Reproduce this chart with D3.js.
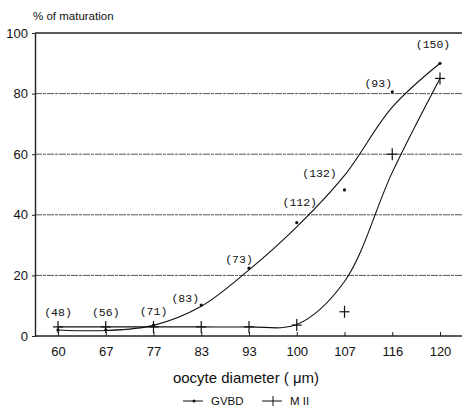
<!DOCTYPE html>
<html>
<head>
<meta charset="utf-8">
<script src="https://cdn.jsdelivr.net/npm/d3@7"></script>
<style>
  body { margin: 0; background: #fff; }
  svg { display: block; }
</style>
</head>
<body>
<svg id="chart" width="462" height="415"></svg>
<script>
// categories (oocyte diameter, um)
const diameters = ['60', '67', '77', '83', '93', '100', '107', '116', '120'];
// observed % of maturation
const gvbd = [2, 2, 3.6, 10.2, 22.4, 37.4, 48.2, 80.6, 90];
const m2 = [3, 3, 3, 3, 3, 3.6, 8, 60, 85];
// fitted curves as drawn in the figure
const gvbdFit = [2, 1.8, 3.5, 9.8, 21.8, 36, 53, 75.5, 90];
const m2Fit = [3, 3, 3, 3, 3, 3.8, 18, 54, 85];
// number of oocytes per class
const counts = ['(48)', '(56)', '(71)', '(83)', '(73)', '(112)', '(132)', '(93)', '(150)'];
const countOffset = [[0, -14], [0, -14], [0, -10], [-16, -3], [-10, -5], [3, -17], [-25, -13], [-14, -5], [-7, -15]];
const yTicks = [0, 20, 40, 60, 80, 100];

const svg = d3.select('#chart');
const margin = { top: 33, right: 0, bottom: 79, left: 35 };
const width = 462 - margin.left - margin.right;
const height = 415 - margin.top - margin.bottom;

const g = svg.append('g')
    .attr('transform', `translate(${margin.left},${margin.top})`);

const x = d3.scalePoint()
    .domain(diameters)
    .range([23, 405]);

const y = d3.scaleLinear()
    .domain([0, 100])
    .range([height, 0]);

const sans = 'Liberation Sans, Arial, sans-serif';

// grid lines
g.selectAll('.grid')
    .data(yTicks.filter(d => d > 0 && d < 100))
    .join('line')
    .attr('x1', 0).attr('x2', width)
    .attr('y1', d => y(d)).attr('y2', d => y(d))
    .attr('stroke', '#555')
    .attr('stroke-width', 1)
    .attr('stroke-dasharray', '7,1,3,1');

// top frame line
g.append('line')
    .attr('x1', 0).attr('x2', width)
    .attr('y1', y(100)).attr('y2', y(100))
    .attr('stroke', '#222').attr('stroke-width', 1.3);

// y axis
const yAxis = g.append('g')
    .call(d3.axisLeft(y).tickValues(yTicks).tickSize(3).tickSizeOuter(0));
yAxis.select('.domain').attr('stroke', '#222').attr('stroke-width', 1.4);
yAxis.selectAll('.tick line').attr('stroke', '#222');
yAxis.selectAll('.tick text')
    .attr('x', -7)
    .attr('font-family', sans)
    .attr('font-size', 13)
    .attr('fill', '#111');

// x axis
const xAxis = g.append('g')
    .attr('transform', `translate(0,${height})`)
    .call(d3.axisBottom(x).tickSize(-4).tickSizeOuter(0));
xAxis.select('.domain').attr('d', `M0,0H${width}`).attr('stroke', '#222').attr('stroke-width', 1.4);
xAxis.selectAll('.tick line').attr('stroke', '#222');
xAxis.selectAll('.tick text')
    .attr('y', 11)
    .attr('font-family', sans)
    .attr('font-size', 13)
    .attr('fill', '#111');

// axis titles
svg.append('text')
    .attr('x', 33).attr('y', 20)
    .attr('font-family', sans)
    .attr('font-size', 11.5)
    .attr('fill', '#111')
    .text('% of maturation');

svg.append('text')
    .attr('x', margin.left + 211).attr('y', 383)
    .attr('text-anchor', 'middle')
    .attr('font-family', sans)
    .attr('font-size', 15)
    .attr('fill', '#111')
    .text('oocyte diameter ( \u03bcm)');

// fitted curves
const line = d3.line()
    .x((d, i) => x(diameters[i]))
    .y(d => y(d))
    .curve(d3.curveCatmullRom.alpha(0.5));

g.append('path')
    .datum(gvbdFit)
    .attr('fill', 'none')
    .attr('stroke', '#111')
    .attr('stroke-width', 1.1)
    .attr('d', line);

g.append('path')
    .datum(m2Fit)
    .attr('fill', 'none')
    .attr('stroke', '#111')
    .attr('stroke-width', 1.1)
    .attr('d', line);

// GVBD points
g.selectAll('.gvbd')
    .data(gvbd)
    .join('circle')
    .attr('cx', (d, i) => x(diameters[i]))
    .attr('cy', d => y(d))
    .attr('r', 1.6)
    .attr('fill', '#111');

// M II points (crosses)
const cross = g.selectAll('.m2')
    .data(m2)
    .join('g')
    .attr('transform', (d, i) => `translate(${x(diameters[i])},${y(d)})`);
cross.append('line')
    .attr('x1', -5).attr('x2', 5)
    .attr('stroke', '#111').attr('stroke-width', 1.2);
cross.append('line')
    .attr('y1', -6).attr('y2', 6)
    .attr('stroke', '#111').attr('stroke-width', 1.2);

// counts
g.selectAll('.count')
    .data(counts)
    .join('text')
    .attr('x', (d, i) => x(diameters[i]) + countOffset[i][0])
    .attr('y', (d, i) => y(gvbd[i]) + countOffset[i][1])
    .attr('text-anchor', 'middle')
    .attr('font-family', 'Liberation Mono, Courier New, monospace')
    .attr('font-size', 11.5)
    .attr('fill', '#111')
    .text(d => d);

// legend
const legend = svg.append('g').attr('transform', 'translate(0,405)');
const items = [
    { name: 'GVBD', x: 183, mark: 'dot' },
    { name: 'M II', x: 262, mark: 'cross' }
];
items.forEach(it => {
    legend.append('line')
        .attr('x1', it.x).attr('x2', it.x + 20)
        .attr('y1', -4).attr('y2', -4)
        .attr('stroke', '#111').attr('stroke-width', 1);
    if (it.mark === 'dot') {
        legend.append('circle')
            .attr('cx', it.x + 11).attr('cy', -4).attr('r', 1.5).attr('fill', '#111');
    } else {
        legend.append('line')
            .attr('x1', it.x + 11).attr('x2', it.x + 11)
            .attr('y1', -9).attr('y2', 1)
            .attr('stroke', '#111').attr('stroke-width', 1);
    }
    legend.append('text')
        .attr('x', it.x + 28).attr('y', 0)
        .attr('font-family', sans)
        .attr('font-size', 11.5)
        .attr('fill', '#111')
        .text(it.name);
});
</script>
</body>
</html>
